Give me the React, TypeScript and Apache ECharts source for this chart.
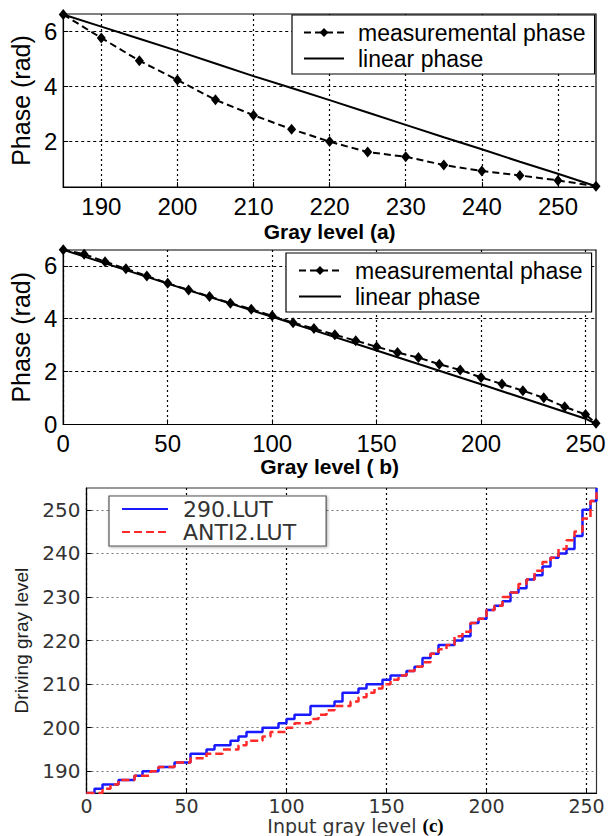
import React, { useEffect, useRef } from "react";
import * as echarts from "echarts";

// ---- Panel (a) ----
const grayA = [185, 190, 195, 200, 205, 210, 215, 220, 225, 230, 235, 240, 245, 250, 255];
const measA = [6.62, 5.77, 4.94, 4.24, 3.52, 2.96, 2.45, 2.0, 1.62, 1.45, 1.15, 0.93, 0.77, 0.59, 0.38];
const linearA = [6.62, 6.18, 5.74, 5.3, 4.84, 4.38, 3.95, 3.51, 3.06, 2.61, 2.16, 1.72, 1.27, 0.83, 0.38];
const ticksAx = [190, 200, 210, 220, 230, 240, 250];
const ticksAy = [2, 4, 6];

// ---- Panel (b) ----
const grayB = [0, 10, 20, 30, 40, 50, 60, 70, 80, 90, 100, 110, 120, 130, 140, 150, 160, 170, 180, 190, 200, 210, 220, 230, 240, 250, 255];
const measB = [6.61, 6.44, 6.16, 5.89, 5.62, 5.34, 5.09, 4.84, 4.59, 4.36, 4.11, 3.85, 3.63, 3.39, 3.17, 2.94, 2.72, 2.53, 2.28, 2.06, 1.78, 1.53, 1.28, 1.01, 0.67, 0.38, 0.05];
const grayBLin = [0, 50, 100, 150, 200, 250, 255];
const linearB = [6.61, 5.33, 4.07, 2.8, 1.52, 0.22, 0.02];
const ticksBx = [0, 50, 100, 150, 200, 250];
const ticksBy = [0, 2, 4, 6];

// ---- Panel (c) ----
const inputC = [0, 4, 8, 12, 16, 20, 24, 28, 32, 36, 40, 44, 48, 52, 56, 60, 64, 68, 72, 76, 80, 84, 88, 92, 96, 100, 104, 108, 112, 116, 120, 124, 128, 132, 136, 140, 144, 148, 152, 156, 160, 164, 168, 172, 176, 180, 184, 188, 192, 196, 200, 204, 208, 212, 216, 220, 224, 228, 232, 236, 240, 244, 248, 252, 255];
const lut290 = [185, 186, 187, 187, 188, 188, 189, 190, 190, 191, 191, 192, 192, 194, 194, 195, 196, 196, 197, 198, 199, 199, 200, 200, 201, 202, 203, 203, 205, 205, 205, 206, 208, 208, 209, 210, 210, 211, 212, 212, 213, 214, 216, 217, 219, 219, 220, 221, 224, 225, 227, 228, 229, 231, 232, 234, 235, 237, 239, 240, 241, 244, 250, 252, 255];
const lutAnti2 = [185, 185, 186, 187, 188, 188, 189, 189, 190, 191, 191, 192, 192, 193, 193, 194, 194, 195, 195, 196, 197, 197, 198, 199, 199, 200, 201, 201, 202, 203, 204, 205, 205, 206, 207, 208, 209, 210, 211, 212, 213, 214, 215, 217, 218, 219, 221, 222, 224, 225, 227, 228, 230, 231, 233, 234, 236, 238, 239, 241, 243, 245, 248, 252, 254];
const ticksCx = [0, 50, 100, 150, 200, 250];
const ticksCy = [190, 200, 210, 220, 230, 240, 250];

const SANS = "Liberation Sans, Arial, sans-serif";
const WIDE = "DejaVu Sans, sans-serif";

function pairs(xs: number[], ys: number[]) {
  return xs.map((x, i) => [x, ys[i]]);
}

function valueAxis(opts: any) {
  const { grid, min, max, ticks, fontSize, font, color, margin, gridColor, gridType, name, nameGap, nameStyle, isY } = opts;
  return {
    type: "value",
    gridIndex: grid,
    min,
    max,
    name,
    nameLocation: "middle",
    nameGap,
    nameRotate: isY ? 90 : 0,
    nameTextStyle: nameStyle,
    axisLine: { show: true, onZero: false, lineStyle: { color: "#000", width: 1.2 } },
    axisTick: { show: true, inside: true, length: 5, customValues: ticks, lineStyle: { color: "#000" } },
    axisLabel: { customValues: ticks, fontSize, fontFamily: font, color, margin, showMinLabel: true, showMaxLabel: true },
    splitLine: { show: true, lineStyle: { color: gridColor, type: gridType, width: 1.2 } },
  };
}

const noSymbol = { itemStyle: { opacity: 0 } };

export default function App() {
  const ref = useRef<HTMLDivElement>(null);
  useEffect(() => {
    if (!ref.current) return;
    const chart = echarts.init(ref.current, null, { renderer: "svg" });
    const abNameY = { fontSize: 25, fontFamily: SANS, color: "#000" };
    const abNameX = { fontSize: 21, fontFamily: SANS, fontWeight: "bold", color: "#000" };
    const option: any = {
      animation: false,
      backgroundColor: "#fff",
      grid: [
        { left: 61, top: 14, width: 535, height: 173, show: true, borderColor: "#000", borderWidth: 1.2, backgroundColor: "transparent" },
        { left: 61, top: 250, width: 535, height: 174.5, show: true, borderColor: "#000", borderWidth: 1.2, backgroundColor: "transparent" },
        { left: 86.5, top: 488, width: 510, height: 308, show: true, borderColor: "#333", borderWidth: 1.2, backgroundColor: "transparent" },
      ],
      xAxis: [
        valueAxis({ grid: 0, min: 185, max: 255, ticks: ticksAx, fontSize: 24, font: SANS, color: "#000", margin: 7, gridColor: "#000", gridType: [2, 3], name: "Gray level (a)", nameGap: 34, nameStyle: abNameX }),
        valueAxis({ grid: 1, min: 0, max: 255, ticks: ticksBx, fontSize: 24, font: SANS, color: "#000", margin: 7, gridColor: "#000", gridType: [2, 3], name: "Gray level ( b)", nameGap: 30, nameStyle: abNameX }),
        valueAxis({
          grid: 2, min: 0, max: 255, ticks: ticksCx, fontSize: 19, font: WIDE, color: "#333", margin: 3, gridColor: "#000", gridType: [2, 3],
          name: "Input gray level {c|(c)}", nameGap: 22,
          nameStyle: { fontSize: 19, fontFamily: WIDE, color: "#333", padding: [0, 0, 0, 28], rich: { c: { fontFamily: "Liberation Serif, serif", fontWeight: "bold", fontSize: 19, color: "#000" } } },
        }),
      ],
      yAxis: [
        valueAxis({ grid: 0, min: 0.35, max: 6.64, ticks: ticksAy, fontSize: 24, font: SANS, color: "#000", margin: 6, gridColor: "#000", gridType: [3, 3], name: "Phase (rad)", nameGap: 26, nameStyle: abNameY, isY: true }),
        valueAxis({ grid: 1, min: 0, max: 6.6, ticks: ticksBy, fontSize: 24, font: SANS, color: "#000", margin: 6, gridColor: "#000", gridType: [3, 3], name: "Phase (rad)", nameGap: 26, nameStyle: abNameY, isY: true }),
        valueAxis({ grid: 2, min: 185, max: 255, ticks: ticksCy, fontSize: 20, font: WIDE, color: "#333", margin: 6, gridColor: "#777", gridType: [2, 3], name: "Driving gray level", nameGap: 56, nameStyle: { fontSize: 19, fontFamily: SANS, color: "#222" }, isY: true }),
      ],
      legend: [
        {
          left: 292, top: 15, orient: "vertical",
          data: [{ name: "measuremental phase" }, { name: "linear phase", ...noSymbol }],
          backgroundColor: "#fff", borderColor: "#000", borderWidth: 1.2, padding: [6, 9, 4, 11],
          itemWidth: 40, itemHeight: 11, itemGap: 3,
          textStyle: { fontSize: 23, fontFamily: SANS, color: "#000", padding: [0, 0, 0, 9] },
        },
        {
          left: 286, top: 253, orient: "vertical",
          data: [{ name: "measuremental phase" }, { name: "linear phase", ...noSymbol }],
          backgroundColor: "#fff", borderColor: "#000", borderWidth: 1.2, padding: [6, 9, 4, 12],
          itemWidth: 42, itemHeight: 11, itemGap: 3,
          textStyle: { fontSize: 23, fontFamily: SANS, color: "#000", padding: [0, 0, 0, 9] },
        },
        {
          left: 109, top: 496, orient: "vertical",
          data: [{ name: "290.LUT", ...noSymbol }, { name: "ANTI2.LUT", ...noSymbol }],
          backgroundColor: "#fff", borderColor: "#555", borderWidth: 1.2, padding: [2, 30, 3, 12],
          shadowBlur: 3, shadowColor: "rgba(0,0,0,0.3)", shadowOffsetX: 1, shadowOffsetY: 1,
          itemWidth: 46, itemHeight: 10, itemGap: 1,
          textStyle: { fontSize: 22, fontFamily: WIDE, color: "#333", padding: [0, 0, 0, 10] },
        },
      ],
      series: [
        {
          name: "measuremental phase", type: "line", xAxisIndex: 0, yAxisIndex: 0, data: pairs(grayA, measA),
          symbol: "diamond", symbolSize: [9, 11], clip: false,
          itemStyle: { color: "#000" }, lineStyle: { color: "#000", width: 2, type: [7, 4] },
        },
        {
          name: "linear phase", type: "line", xAxisIndex: 0, yAxisIndex: 0, data: pairs(grayA, linearA),
          symbol: "none", itemStyle: { color: "#000" }, lineStyle: { color: "#000", width: 2 },
        },
        {
          name: "measuremental phase", type: "line", xAxisIndex: 1, yAxisIndex: 1, data: pairs(grayB, measB),
          symbol: "diamond", symbolSize: [9, 11], clip: false,
          itemStyle: { color: "#000" }, lineStyle: { color: "#000", width: 2, type: [7, 4] },
        },
        {
          name: "linear phase", type: "line", xAxisIndex: 1, yAxisIndex: 1, data: pairs(grayBLin, linearB),
          symbol: "none", itemStyle: { color: "#000" }, lineStyle: { color: "#000", width: 2 },
        },
        {
          name: "290.LUT", type: "line", xAxisIndex: 2, yAxisIndex: 2, data: pairs(inputC, lut290),
          step: "end", symbol: "none", itemStyle: { color: "#1a1aff" }, lineStyle: { color: "#1a1aff", width: 2.5 },
        },
        {
          name: "ANTI2.LUT", type: "line", xAxisIndex: 2, yAxisIndex: 2, data: pairs(inputC, lutAnti2),
          step: "end", symbol: "none", itemStyle: { color: "#ff2a2a" }, lineStyle: { color: "#ff2a2a", width: 2.5, type: [8, 4] },
        },
      ],
    };
    chart.setOption(option);
    return () => chart.dispose();
  }, []);
  return <div ref={ref} style={{ position: "fixed", left: 0, top: 0, width: 609, height: 836 }} />;
}
